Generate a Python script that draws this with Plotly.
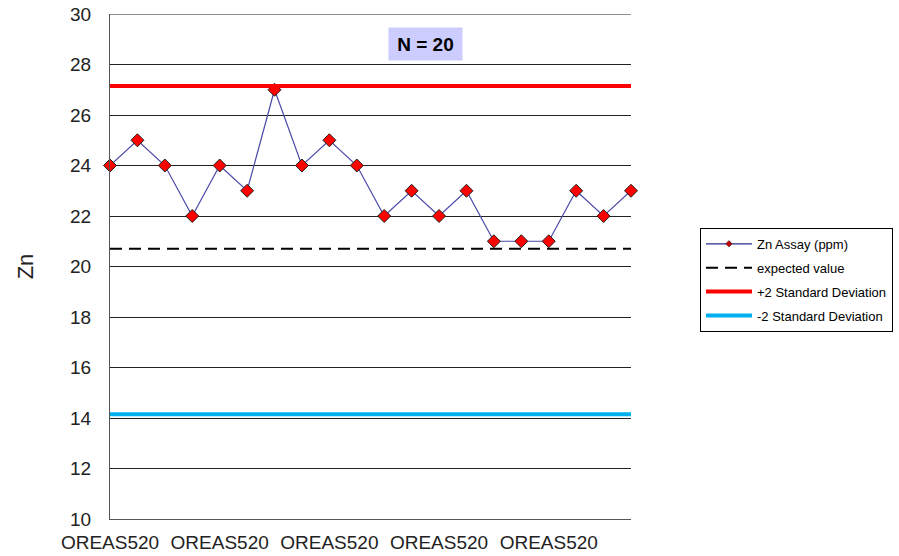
import plotly.graph_objects as go

# Assay results for the OREAS520 reference standard
samples = ["OREAS520"] * 20
zn_ppm = [24, 25, 24, 22, 24, 23, 27, 24, 25, 24, 22, 23, 22, 23, 21, 21, 21, 23, 22, 23]
expected_value = 20.7
plus_2sd = 27.15
minus_2sd = 14.15
y_min, y_max = 10, 30

idx = list(range(len(samples)))
x_span = [idx[0], idx[-1]]
label_pos = idx[::4]
label_text = [samples[i] for i in label_pos]

font_family = "Liberation Sans, Arial, sans-serif"

fig = go.Figure()
fig.add_trace(go.Scatter(
    x=idx, y=zn_ppm, mode="lines+markers", name="Zn Assay (ppm)",
    line=dict(color="#4a4aa8", width=1.2),
    marker=dict(symbol="diamond", size=10, color="#ff0000",
                line=dict(color="#222222", width=1)),
    cliponaxis=False, showlegend=False,
))
# legend entry with a small marker, as the key shows it
fig.add_trace(go.Scatter(
    x=[None], y=[None], mode="lines+markers", name="Zn Assay (ppm)",
    line=dict(color="#2a2a90", width=1.2),
    marker=dict(symbol="diamond", size=5, color="#c00000",
                line=dict(color="#222222", width=0.5)),
    legendgroup="a",
))
fig.add_trace(go.Scatter(
    x=x_span, y=[expected_value] * 2, mode="lines", name="expected value",
    line=dict(color="#000000", width=2, dash="12px,7px"), legendgroup="b",
))
fig.add_trace(go.Scatter(
    x=x_span, y=[plus_2sd] * 2, mode="lines", name="+2 Standard Deviation",
    line=dict(color="#ff0000", width=4), legendgroup="c",
))
fig.add_trace(go.Scatter(
    x=x_span, y=[minus_2sd] * 2, mode="lines", name="-2 Standard Deviation",
    line=dict(color="#00b0f0", width=4), legendgroup="d",
))

# top gridline at the upper limit of the axis
fig.add_shape(type="line", xref="paper", x0=0, x1=1, yref="y", y0=y_max, y1=y_max,
              line=dict(color="#222222", width=1), layer="below")

fig.add_annotation(
    x=0.605, y=0.94, xref="paper", yref="paper", text="<b>N = 20</b>",
    xanchor="center", yanchor="middle",
    showarrow=False, bgcolor="#ccccff", width=71, height=30,
    font=dict(family=font_family, size=19, color="#000000"),
)

fig.update_layout(
    width=899, height=556,
    margin=dict(l=110, r=268, t=14, b=37, autoexpand=False),
    paper_bgcolor="white", plot_bgcolor="white",
    font=dict(family=font_family, color="#333333"),
    showlegend=True,
    legend=dict(
        x=1.1324, y=0.5765, xanchor="left", yanchor="top",
        bordercolor="#000000", borderwidth=1,
        font=dict(family=font_family, size=13, color="#000000"),
        itemwidth=46, tracegroupgap=4,
    ),
    xaxis=dict(
        range=x_span, tickmode="array", tickvals=label_pos, ticktext=label_text,
        showgrid=False, zeroline=False, showline=True, linecolor="#555555",
        linewidth=1, tickfont=dict(size=19, color="#222222"), ticks="",
        ticklabelstandoff=6, automargin=False,
    ),
    yaxis=dict(
        range=[y_min, y_max], dtick=2, showgrid=True, gridcolor="#222222", gridwidth=1,
        zeroline=False, showline=True, linecolor="#555555", linewidth=1,
        tickfont=dict(size=19, color="#222222"), ticks="",
        ticklabelstandoff=14, automargin=False,
        title=dict(text="Zn", font=dict(size=22, color="#222222"), standoff=30),
    ),
)

fig.write_html("out.html")
